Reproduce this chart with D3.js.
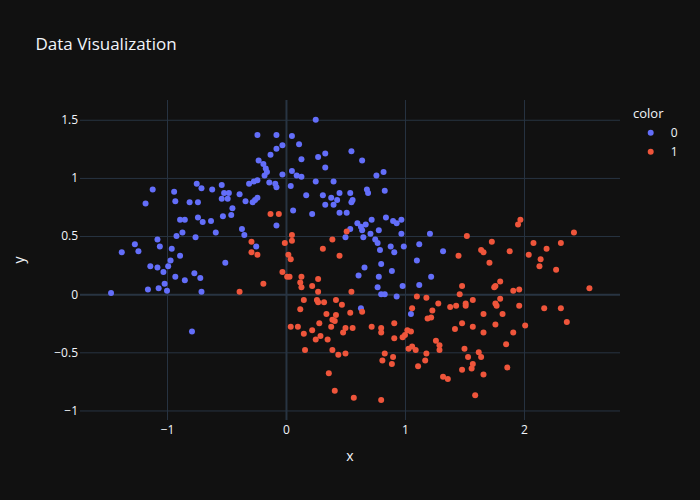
<!DOCTYPE html>
<html>
<head>
<meta charset="utf-8">
<script src="https://cdn.jsdelivr.net/npm/d3@7"></script>
<style>
  body { margin: 0; background: #111111; }
  svg { display: block; font-family: "Open Sans", verdana, arial, sans-serif; }
</style>
</head>
<body>
<div id="chart"></div>
<script>
// class 0 (blue)
const x0 = [
  -0.24,-0.23,-1.12,-1.18,-0.94,-0.93,-0.75,-0.71,-0.62,-0.54,
  -0.52,-0.48,-0.49,-0.54,-0.81,-0.74,-0.39,-0.34,-0.31,-0.27,
  -0.24,-0.28,-0.26,-0.24,-0.45,-0.46,-0.53,-0.89,-0.85,-0.74,
  -0.70,-0.63,-0.59,-0.37,-0.35,-0.87,-0.92,-0.76,-1.08,-1.27,
  -1.06,-1.24,-1.38,-0.96,-0.25,-0.89,-0.97,0.25,-0.08,0.05,
  0.11,-0.03,-0.08,-0.13,-0.19,-0.17,-0.16,-0.18,0.13,0.27,
  0.33,0.33,0.55,0.64,0.76,0.82,0.05,0.09,0.13,-0.03,
  0.25,0.40,-0.14,-0.09,-0.08,0.04,0.17,0.31,0.38,0.43,
  0.45,0.54,0.56,0.55,0.68,0.69,0.83,0.33,0.40,0.45,
  0.51,0.06,0.22,-0.08,0.54,0.60,0.63,0.67,0.64,0.72,
  0.78,0.84,0.90,0.93,0.97,0.97,1.21,0.71,0.50,0.65,
  0.75,0.77,0.79,0.88,0.91,0.99,1.12,1.10,1.32,-1.14,
  -1.08,-0.99,-1.03,-0.93,-0.85,-0.77,-0.72,-1.02,-1.16,-1.07,
  -1.00,-0.71,-0.51,-1.47,-0.79,0.66,0.80,0.89,0.61,0.78,
  0.77,0.98,0.80,0.83,0.93,0.63,1.05,1.12,1.22
];
const y0 = [
  1.37,1.15,0.90,0.78,0.88,0.80,0.95,0.91,0.90,0.94,
  0.87,0.87,0.82,0.82,0.79,0.79,0.86,0.80,0.95,0.97,
  0.98,0.79,0.81,0.83,0.74,0.68,0.67,0.64,0.64,0.66,
  0.62,0.63,0.53,0.56,0.51,0.53,0.50,0.49,0.47,0.43,
  0.41,0.37,0.36,0.39,0.41,0.33,0.29,1.50,1.37,1.36,
  1.29,1.28,1.25,1.20,1.12,1.08,1.05,1.02,1.16,1.18,
  1.21,1.09,1.23,1.15,1.02,1.05,1.06,1.02,1.01,1.03,
  0.97,0.97,0.96,0.95,0.92,0.93,0.85,0.85,0.83,0.81,
  0.87,0.87,0.81,0.79,0.90,0.87,0.89,0.77,0.77,0.70,
  0.70,0.72,0.69,0.59,0.56,0.61,0.58,0.60,0.55,0.64,
  0.55,0.66,0.63,0.61,0.64,0.52,0.52,0.52,0.49,0.49,
  0.47,0.44,0.38,0.41,0.36,0.41,0.43,0.29,0.37,0.24,
  0.23,0.24,0.19,0.15,0.12,0.18,0.14,0.09,0.04,0.05,
  0.03,0.02,0.27,0.01,-0.32,0.23,0.26,0.20,0.16,0.15,
  0.06,0.07,0.00,0.00,-0.02,-0.12,-0.17,0.08,0.15
];

// class 1 (red)
const x1 = [
  -0.29,-0.29,-0.24,-0.13,-0.06,0.05,0.05,-0.01,0.51,0.39,
  0.31,0.45,0.02,0.04,1.97,1.95,1.52,2.42,1.73,2.08,
  2.31,1.64,1.66,1.88,2.19,1.45,2.04,2.14,-0.39,-0.03,
  0.01,0.03,0.13,0.27,0.12,0.13,0.22,-0.19,0.27,0.55,
  0.15,0.26,0.27,0.32,0.42,0.47,0.12,0.34,0.42,0.39,
  0.41,0.54,0.64,0.28,0.38,0.04,0.10,0.22,0.15,0.29,
  0.25,0.35,0.50,0.48,0.56,0.72,0.80,0.80,0.91,0.91,
  0.98,1.00,1.02,1.05,1.10,1.18,1.28,1.06,1.23,1.19,
  1.22,1.26,1.03,1.06,1.09,1.29,1.29,1.18,1.17,1.11,
  0.16,0.39,0.44,0.50,0.83,0.90,0.81,0.89,0.36,0.41,
  0.57,0.80,1.71,2.13,2.27,2.55,1.48,1.46,1.75,1.76,
  1.80,1.91,1.96,1.38,1.43,1.51,1.51,1.57,1.76,1.77,
  1.80,1.96,2.17,2.31,1.66,1.82,2.36,1.48,1.42,1.57,
  1.76,1.66,1.91,2.01,1.85,1.50,1.62,1.64,1.53,1.57,
  1.56,1.48,1.86,1.66,1.32,1.36,1.59
];
const y1 = [
  0.45,0.36,0.34,0.69,0.69,0.51,0.46,0.44,0.54,0.47,
  0.39,0.33,0.34,0.30,0.64,0.60,0.50,0.53,0.45,0.44,
  0.44,0.38,0.36,0.37,0.39,0.33,0.34,0.30,0.02,0.19,
  0.15,0.15,0.15,0.13,0.10,0.06,0.07,0.09,0.02,0.02,
  -0.05,-0.05,-0.07,-0.07,-0.05,-0.09,-0.13,-0.17,-0.18,-0.22,
  -0.23,-0.16,-0.15,-0.25,-0.28,-0.28,-0.28,-0.31,-0.34,-0.36,
  -0.39,-0.39,-0.29,-0.33,-0.29,-0.28,-0.29,-0.33,-0.25,-0.38,
  -0.37,-0.35,-0.31,-0.32,-0.02,-0.03,-0.08,-0.12,-0.14,-0.21,
  -0.20,-0.40,-0.47,-0.45,-0.48,-0.44,-0.48,-0.51,-0.57,-0.62,
  -0.48,-0.48,-0.52,-0.51,-0.51,-0.54,-0.57,-0.60,-0.68,-0.83,
  -0.89,-0.91,0.27,0.24,0.21,0.05,0.07,0.00,0.06,0.07,
  0.11,0.03,0.04,-0.11,-0.10,-0.08,-0.10,-0.05,-0.08,-0.10,
  -0.04,-0.10,-0.12,-0.12,-0.17,-0.17,-0.24,-0.25,-0.30,-0.28,
  -0.26,-0.33,-0.33,-0.27,-0.43,-0.47,-0.50,-0.54,-0.54,-0.60,
  -0.64,-0.65,-0.63,-0.69,-0.71,-0.73,-0.87
];

const categories = ["0", "1"];
const colors = ["#636efa", "#EF553B"];
const xTicks = [-1, 0, 1, 2];
const yTicks = [-1, -0.5, 0, 0.5, 1, 1.5];

const W = 700, H = 500;
const margin = { top: 100, right: 80, bottom: 80, left: 80 };
const plotW = 540, plotH = 320;
const textColor = "#f2f5fa";
const gridColor = "#283442";

const svg = d3.select("#chart").append("svg")
    .attr("width", W)
    .attr("height", H)
    .style("background", "#111111");

const x = d3.scaleLinear().domain([-1.731, 2.807]).range([0, plotW]);
const y = d3.scaleLinear().domain([-1.082, 1.670]).range([plotH, 0]);

const g = svg.append("g")
    .attr("transform", `translate(${margin.left},${margin.top})`);

const fmt = d3.format("~g");

// grid lines
g.append("g")
    .attr("class", "grid")
    .call(d3.axisBottom(x).tickValues(xTicks).tickSize(plotH).tickFormat(""))
    .call(s => s.select(".domain").remove())
    .selectAll("line")
    .attr("stroke", gridColor)
    .attr("stroke-width", d => d === 0 ? 2 : 1);

g.append("g")
    .attr("class", "grid")
    .call(d3.axisLeft(y).tickValues(yTicks).tickSize(-plotW).tickFormat(""))
    .call(s => s.select(".domain").remove())
    .selectAll("line")
    .attr("stroke", gridColor)
    .attr("stroke-width", d => d === 0 ? 2 : 1);

// tick labels
const xAxis = g.append("g")
    .attr("transform", `translate(0,${plotH})`)
    .call(d3.axisBottom(x).tickValues(xTicks).tickSize(0).tickPadding(5).tickFormat(fmt));
xAxis.select(".domain").remove();
xAxis.selectAll("text")
    .attr("fill", textColor)
    .style("font-size", "12px")
    .style("font-family", "'Open Sans', verdana, arial, sans-serif");

const yAxis = g.append("g")
    .call(d3.axisLeft(y).tickValues(yTicks).tickSize(0).tickPadding(2).tickFormat(fmt));
yAxis.select(".domain").remove();
yAxis.selectAll("text")
    .attr("fill", textColor)
    .style("font-size", "12px")
    .style("font-family", "'Open Sans', verdana, arial, sans-serif");

// points
const series = [
    { key: categories[0], xs: x0, ys: y0, color: colors[0] },
    { key: categories[1], xs: x1, ys: y1, color: colors[1] }
];

series.forEach(s => {
    g.append("g")
        .selectAll("circle")
        .data(s.xs.map((v, i) => [v, s.ys[i]]))
        .join("circle")
        .attr("cx", d => x(d[0]))
        .attr("cy", d => y(d[1]))
        .attr("r", 3)
        .attr("fill", s.color);
});

// title
svg.append("text")
    .attr("x", 35.5)
    .attr("y", 50)
    .attr("fill", textColor)
    .style("font-size", "17px")
    .text("Data Visualization");

// axis titles
svg.append("text")
    .attr("x", margin.left + plotW / 2)
    .attr("y", 461)
    .attr("text-anchor", "middle")
    .attr("fill", textColor)
    .style("font-size", "14px")
    .text("x");

svg.append("text")
    .attr("transform", `translate(24,${margin.top + plotH / 2}) rotate(-90)`)
    .attr("text-anchor", "middle")
    .attr("fill", textColor)
    .style("font-size", "14px")
    .text("y");

// legend
const legend = svg.append("g").attr("transform", "translate(633,0)");
legend.append("text")
    .attr("x", 0)
    .attr("y", 118)
    .attr("fill", textColor)
    .style("font-size", "13px")
    .text("color");

const item = legend.selectAll("g.item")
    .data(series)
    .join("g")
    .attr("class", "item")
    .attr("transform", (d, i) => `translate(0,${132.7 + i * 19})`);

item.append("circle")
    .attr("cx", 17.7)
    .attr("cy", 0)
    .attr("r", 3)
    .attr("fill", d => d.color);

item.append("text")
    .attr("x", 37.7)
    .attr("y", 4.4)
    .attr("fill", textColor)
    .style("font-size", "12px")
    .text(d => d.key);
</script>
</body>
</html>
